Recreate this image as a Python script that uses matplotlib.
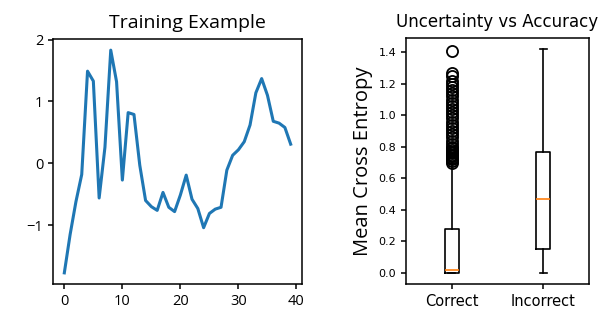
import matplotlib
matplotlib.use("Agg")
import matplotlib.pyplot as plt

# ---- data ----
signal = [-1.77, -1.15, -0.62, -0.18, 1.49, 1.33, -0.56, 0.26, 1.83, 1.32,
          -0.27, 0.82, 0.79, -0.03, -0.60, -0.70, -0.76, -0.47, -0.71, -0.78,
          -0.51, -0.19, -0.58, -0.73, -1.04, -0.81, -0.74, -0.71, -0.11, 0.13,
          0.22, 0.35, 0.62, 1.14, 1.37, 1.10, 0.68, 0.65, 0.58, 0.31]

groups = ["Correct", "Incorrect"]
q1 = [0.0, 0.15]
med = [0.017, 0.47]
q3 = [0.28, 0.765]
whislo = [0.0, 0.0]
whishi = [0.695, 1.42]
correct_outliers = [0.70, 0.71, 0.72, 0.73, 0.74, 0.75, 0.76, 0.77, 0.78, 0.79,
                    0.80, 0.82, 0.84, 0.86, 0.88, 0.90, 0.92, 0.94, 0.96, 0.98,
                    1.00, 1.02, 1.04, 1.06, 1.08, 1.10, 1.12, 1.14, 1.16, 1.18,
                    1.20, 1.22, 1.25, 1.27, 1.41]
incorrect_outliers = []

fig = plt.figure(figsize=(6.1, 3.18), dpi=100)

# left: training example
ax1 = fig.add_axes([53/610, 1 - 284/318, 249/610, 245/318])
ax1.plot(range(len(signal)), signal, color="#1f77b4", linewidth=2.2)
ax1.set_title("Training Example", family="Open Sans", fontsize=14, pad=8, x=0.54)
ax1.set_xticks([0, 10, 20, 30, 40])
ax1.set_yticks([-1, 0, 1, 2])
for lab in ax1.get_xticklabels() + ax1.get_yticklabels():
    lab.set_family("Open Sans")
    lab.set_fontsize(10.5)

# right: boxplot
ax2 = fig.add_axes([406/610, 1 - 284/318, 183/610, 246/318])
fliers = [correct_outliers, incorrect_outliers]
stats = []
for i, g in enumerate(groups):
    stats.append(dict(label=g, q1=q1[i], med=med[i], q3=q3[i],
                      whislo=whislo[i], whishi=whishi[i], fliers=fliers[i]))
lw = 1.2
ax2.bxp(stats, positions=[1, 2], widths=0.15,
        boxprops=dict(linewidth=lw),
        whiskerprops=dict(linewidth=lw),
        capprops=dict(linewidth=lw),
        flierprops=dict(marker="o", markersize=8, markerfacecolor="none",
                        markeredgecolor="black", markeredgewidth=1.3),
        medianprops=dict(color="#ff7f0e", linewidth=1.2))
ax2.set_xlim(0.5, 2.5)
ax2.set_title("Uncertainty vs Accuracy", fontsize=12, pad=8)
ax2.set_ylabel("Mean Cross Entropy", family="Open Sans", fontsize=14.5)
ax2.set_yticks([0.0, 0.2, 0.4, 0.6, 0.8, 1.0, 1.2, 1.4])
ax2.tick_params(axis="y", labelsize=8)
ax2.tick_params(axis="x", labelsize=10.5)

for ax in (ax1, ax2):
    for s in ax.spines.values():
        s.set_linewidth(1.1)
    ax.tick_params(width=1.1)

fig.savefig("out.png", dpi=100)
